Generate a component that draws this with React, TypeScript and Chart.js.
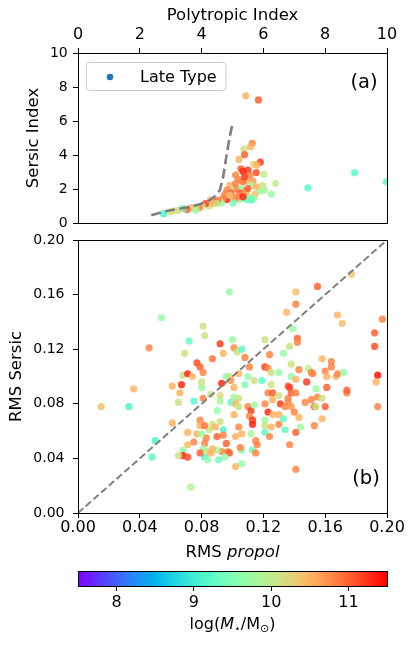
import React, { useEffect, useRef } from 'react';
import { Chart, registerables } from 'chart.js';

Chart.register(...registerables);

const W = 416;
const H = 646;
const FONT = "'DejaVu Sans', 'Liberation Sans', sans-serif";

// ---------- Panel (a): Polytropic index vs Sersic index ----------
const polyIndex = [5.64, 5.58, 5.37, 5.39, 5.21, 5.90, 5.69, 5.79, 5.27, 5.50,
  5.34, 5.77, 6.02, 5.10, 5.56, 5.19, 5.45, 5.66, 5.34, 5.97,
  6.40, 5.61, 5.02, 4.91, 4.82, 5.15, 5.29, 5.23, 5.43, 5.88,
  5.45, 5.72, 6.26, 5.56, 5.69, 5.45, 5.23, 5.07, 5.02, 4.82,
  4.71, 4.64, 4.53, 4.42, 4.32, 4.24, 4.13, 4.02, 3.92, 3.81,
  3.67, 3.53, 3.40, 3.27, 3.13, 2.99, 2.77, 3.81, 4.96, 4.75,
  5.10, 5.39, 5.50, 5.77, 6.04, 4.91, 5.18, 5.34, 4.48, 4.29,
  5.61, 5.43, 5.84, 7.44, 8.95, 9.98];
const sersicIndex = [4.69, 4.49, 4.35, 4.02, 3.74, 3.58, 3.45, 3.41, 3.19, 3.11,
  3.05, 2.97, 2.87, 2.82, 2.81, 2.56, 2.46, 2.46, 2.42, 2.22,
  2.32, 2.22, 2.09, 2.22, 1.93, 2.03, 2.03, 1.77, 1.89, 1.87,
  1.69, 1.69, 1.69, 1.48, 1.44, 1.38, 1.38, 1.44, 1.18, 1.38,
  1.50, 1.18, 1.34, 1.24, 1.14, 1.02, 1.14, 0.98, 0.90, 0.86,
  0.90, 0.79, 0.85, 0.75, 0.71, 0.65, 0.55, 0.75, 1.77, 1.69,
  2.32, 2.72, 2.03, 2.13, 1.93, 1.63, 1.54, 1.54, 1.14, 1.34,
  1.34, 7.48, 7.24, 2.07, 2.95, 2.42];
const massTop = [10.8, 10.5, 10.1, 11.0, 10.5, 11.2, 10.3, 10.5, 11.0, 11.2,
  11.3, 11.1, 10.0, 10.8, 10.8, 10.8, 10.5, 10.7, 10.9, 10.1,
  10.0, 9.8, 9.7, 10.5, 10.8, 10.8, 9.7, 11.0, 10.8, 9.7,
  10.5, 10.4, 9.7, 9.7, 9.8, 9.3, 9.7, 10.8, 9.4, 11.3,
  10.8, 9.7, 10.8, 11.0, 10.7, 10.2, 11.2, 10.1, 10.8, 10.1,
  10.5, 11.0, 9.2, 10.1, 10.1, 10.2, 9.1, 9.7, 11.0, 10.8,
  10.8, 11.2, 11.0, 10.5, 9.8, 10.4, 10.8, 11.3, 10.1, 10.5,
  9.3, 10.5, 11.0, 9.2, 9.2, 9.2];

// dashed relation curve
const curvePoly = [2.37, 2.86, 3.51, 3.94, 4.26, 4.48, 4.59, 4.69, 4.80, 4.91, 5.00];
const curveSersic = [0.45, 0.71, 0.91, 1.10, 1.34, 1.64, 1.93, 2.62, 3.90, 5.08, 5.83];

// ---------- Panel (b): RMS propol vs RMS Sersic ----------
const rmsPropol = [
  0.015, 0.033, 0.036, 0.046, 0.054, 0.050, 0.048, 0.073, 0.098, 0.081,
  0.082, 0.072, 0.069, 0.061, 0.067, 0.068, 0.065, 0.066, 0.061, 0.071,
  0.077, 0.079, 0.081, 0.074, 0.080, 0.080, 0.075, 0.081, 0.086, 0.087,
  0.092, 0.094, 0.093, 0.092, 0.092, 0.090, 0.096, 0.098, 0.099, 0.099,
  0.100, 0.101, 0.103, 0.106, 0.104, 0.101, 0.101, 0.104, 0.102, 0.104,
  0.108, 0.111, 0.110, 0.108, 0.114, 0.110, 0.112, 0.111, 0.114, 0.113,
  0.112, 0.113, 0.115, 0.116, 0.113, 0.115, 0.106, 0.106, 0.102, 0.105,
  0.102, 0.106, 0.104, 0.101, 0.096, 0.097, 0.098, 0.093, 0.090, 0.091,
  0.095, 0.094, 0.094, 0.090, 0.087, 0.085, 0.082, 0.083, 0.081, 0.082,
  0.084, 0.084, 0.086, 0.087, 0.079, 0.079, 0.077, 0.075, 0.071, 0.071,
  0.068, 0.068, 0.071, 0.065, 0.079, 0.082, 0.080, 0.092, 0.089, 0.121,
  0.121, 0.123, 0.119, 0.124, 0.125, 0.125, 0.123, 0.126, 0.126, 0.121,
  0.121, 0.121, 0.121, 0.123, 0.126, 0.125, 0.124, 0.130, 0.130, 0.130,
  0.130, 0.133, 0.131, 0.133, 0.134, 0.134, 0.136, 0.136, 0.137, 0.138,
  0.136, 0.138, 0.138, 0.137, 0.139, 0.138, 0.140, 0.141, 0.141, 0.142,
  0.142, 0.141, 0.141, 0.135, 0.141, 0.141, 0.137, 0.143, 0.144, 0.143,
  0.147, 0.148, 0.149, 0.151, 0.152, 0.151, 0.153, 0.154, 0.154, 0.155,
  0.153, 0.155, 0.158, 0.158, 0.158, 0.160, 0.161, 0.161, 0.160, 0.164,
  0.164, 0.167, 0.168, 0.172, 0.168, 0.171, 0.177, 0.174, 0.174, 0.192,
  0.192, 0.194, 0.193, 0.194, 0.197];
const rmsSersic = [
  0.078, 0.078, 0.091, 0.121, 0.143, 0.053, 0.041, 0.019, 0.162, 0.137,
  0.130, 0.126, 0.117, 0.093, 0.094, 0.101, 0.081, 0.088, 0.066, 0.102,
  0.110, 0.107, 0.103, 0.100, 0.092, 0.096, 0.082, 0.084, 0.087, 0.113,
  0.124, 0.117, 0.095, 0.086, 0.082, 0.075, 0.100, 0.100, 0.097, 0.081,
  0.127, 0.121, 0.118, 0.120, 0.102, 0.092, 0.085, 0.084, 0.080, 0.078,
  0.114, 0.107, 0.100, 0.094, 0.097, 0.078, 0.075, 0.071, 0.079, 0.068,
  0.058, 0.065, 0.053, 0.050, 0.046, 0.044, 0.046, 0.036, 0.034, 0.048,
  0.056, 0.058, 0.063, 0.072, 0.051, 0.045, 0.044, 0.045, 0.046, 0.039,
  0.041, 0.061, 0.057, 0.056, 0.065, 0.061, 0.051, 0.055, 0.047, 0.041,
  0.039, 0.045, 0.044, 0.047, 0.068, 0.064, 0.058, 0.052, 0.050, 0.059,
  0.046, 0.042, 0.041, 0.042, 0.044, 0.064, 0.058, 0.067, 0.063, 0.127,
  0.107, 0.106, 0.097, 0.116, 0.103, 0.094, 0.088, 0.088, 0.083, 0.080,
  0.068, 0.064, 0.059, 0.074, 0.072, 0.063, 0.056, 0.065, 0.086, 0.103,
  0.072, 0.069, 0.080, 0.117, 0.078, 0.061, 0.084, 0.093, 0.092, 0.088,
  0.081, 0.078, 0.109, 0.122, 0.135, 0.100, 0.074, 0.088, 0.098, 0.128,
  0.125, 0.153, 0.162, 0.147, 0.059, 0.032, 0.050, 0.070, 0.063, 0.105,
  0.081, 0.096, 0.106, 0.103, 0.102, 0.083, 0.078, 0.078, 0.091, 0.085,
  0.064, 0.166, 0.113, 0.084, 0.069, 0.104, 0.100, 0.092, 0.078, 0.111,
  0.107, 0.100, 0.102, 0.103, 0.145, 0.139, 0.175, 0.088, 0.090, 0.132,
  0.122, 0.101, 0.096, 0.078, 0.142];
const massBottom = [
  10.4, 9.1, 10.5, 10.8, 9.7, 9.1, 9.2, 9.9, 9.7, 10.1,
  10.1, 9.3, 10.1, 10.5, 11.3, 10.1, 10.1, 10.5, 10.5, 11.3,
  11.1, 11.0, 10.8, 10.5, 9.7, 10.1, 9.2, 10.8, 10.1, 10.9,
  11.2, 10.5, 11.3, 10.2, 9.8, 9.7, 9.5, 10.1, 10.7, 9.3,
  9.7, 10.8, 10.1, 9.2, 10.5, 10.5, 9.8, 10.1, 10.5, 10.1,
  10.8, 10.8, 9.7, 9.6, 10.1, 10.8, 11.2, 10.8, 9.7, 11.2,
  9.8, 11.3, 10.8, 10.8, 9.4, 10.8, 9.7, 9.7, 10.5, 10.8,
  10.5, 10.5, 10.8, 10.5, 11.0, 10.8, 11.0, 10.8, 9.8, 9.4,
  9.7, 9.1, 10.8, 11.0, 10.1, 10.1, 10.8, 10.8, 9.7, 9.2,
  9.7, 10.1, 10.5, 10.5, 10.8, 10.5, 10.5, 10.8, 10.5, 10.5,
  9.7, 11.3, 11.1, 10.1, 11.0, 10.9, 9.7, 10.1, 10.5, 10.1,
  11.2, 10.8, 9.2, 10.8, 10.1, 10.1, 10.8, 11.0, 10.5, 10.8,
  9.8, 10.1, 9.3, 11.3, 10.5, 10.5, 10.8, 10.8, 10.1, 9.7,
  10.5, 9.3, 11.2, 9.7, 10.8, 9.3, 10.8, 11.0, 11.2, 11.0,
  10.8, 10.7, 10.1, 10.1, 9.7, 9.7, 10.8, 10.8, 10.5, 11.0,
  10.8, 10.8, 10.4, 10.5, 11.0, 10.8, 10.8, 10.5, 9.7, 10.8,
  10.8, 11.2, 9.9, 10.8, 10.8, 10.8, 11.0, 10.1, 9.7, 10.8,
  10.8, 11.0, 10.5, 10.1, 10.5, 10.8, 10.5, 11.0, 11.0, 10.8,
  10.8, 10.5, 10.8, 9.7, 10.5, 10.4, 10.4, 10.8, 11.0, 11.0,
  11.1, 11.4, 10.5, 10.8, 10.8];

// one-to-one reference line
const diagX = [0, 0.2];
const diagY = [0, 0.2];

// ---------- ticks / colour scale ----------
const polyTicks = [0, 2, 4, 6, 8, 10];
const sersicTicks = [0, 2, 4, 6, 8, 10];
const rmsTicks = [0, 0.04, 0.08, 0.12, 0.16, 0.2];
const massTicks = [8, 9, 10, 11];
const massMin = 7.5;
const massMax = 11.5;

// ---------- layout (pixel geometry, not data) ----------
const L = 78;
const R = 387;
const TOP_A = 53;
const BOT_A = 223;
const TOP_B = 240;
const BOT_B = 513;
const TOP_C = 571;
const BOT_C = 586;
const BIG = 16;      // x tick labels, legend, colorbar
const TITLE = 16.5;  // axis titles
const SMALL = 14;    // y tick labels

function rainbow(t: number): [number, number, number] {
  const u = Math.max(0, Math.min(1, t));
  const r = Math.min(1, Math.abs(2 * u - 0.5));
  const g = Math.sin(Math.PI * u);
  const b = Math.cos((Math.PI * u) / 2);
  return [Math.round(r * 255), Math.round(g * 255), Math.round(b * 255)];
}
function massColor(m: number, a: number): string {
  const [r, g, b] = rainbow((m - massMin) / (massMax - massMin));
  return `rgba(${r},${g},${b},${a})`;
}

function axis(ticksArr: number[], fmt: (v: number) => string, pad: number, size: number) {
  return {
    type: 'linear' as const,
    grid: {
      display: true,
      drawOnChartArea: false,
      drawTicks: true,
      tickLength: 5,
      color: '#000',
      lineWidth: 1,
    },
    border: { display: false },
    ticks: {
      autoSkip: false,
      maxRotation: 0,
      minRotation: 0,
      padding: pad,
      color: '#000',
      font: { family: FONT, size },
      callback: (v: any) => fmt(Number(v)),
    },
    afterBuildTicks: (s: any) => {
      s.ticks = ticksArr.map((v) => ({ value: v }));
    },
  };
}

const fmtInt = (v: number) => String(Math.round(v));
const fmt2 = (v: number) => v.toFixed(2);

const framePlugin = {
  id: 'frame',
  afterDatasetsDraw(chart: any) {
    const { ctx, chartArea: a } = chart;
    ctx.save();
    ctx.strokeStyle = '#000';
    ctx.lineWidth = 1;
    const x0 = Math.round(a.left) + 0.5;
    const y0 = Math.round(a.top) + 0.5;
    const x1 = Math.round(a.right) + 0.5;
    const y1 = Math.round(a.bottom) + 0.5;
    ctx.strokeRect(x0, y0, x1 - x0, y1 - y0);
    ctx.restore();
  },
};

function roundRect(ctx: CanvasRenderingContext2D, x: number, y: number, w: number, h: number, r: number) {
  ctx.beginPath();
  ctx.moveTo(x + r, y);
  ctx.lineTo(x + w - r, y);
  ctx.arcTo(x + w, y, x + w, y + r, r);
  ctx.lineTo(x + w, y + h - r);
  ctx.arcTo(x + w, y + h, x + w - r, y + h, r);
  ctx.lineTo(x + r, y + h);
  ctx.arcTo(x, y + h, x, y + h - r, r);
  ctx.lineTo(x, y + r);
  ctx.arcTo(x, y, x + r, y, r);
  ctx.closePath();
}

const topAnnot = {
  id: 'topAnnot',
  afterDraw(chart: any) {
    const ctx: CanvasRenderingContext2D = chart.ctx;
    ctx.save();
    roundRect(ctx, 86.5, 62.5, 139.5, 28, 3);
    ctx.fillStyle = 'rgba(255,255,255,0.8)';
    ctx.fill();
    ctx.strokeStyle = '#cccccc';
    ctx.lineWidth = 1;
    ctx.stroke();
    ctx.beginPath();
    ctx.fillStyle = '#1f77b4';
    ctx.arc(110, 77, 3.3, 0, Math.PI * 2);
    ctx.fill();
    ctx.fillStyle = '#000';
    ctx.textBaseline = 'alphabetic';
    ctx.textAlign = 'left';
    ctx.font = `${BIG}px ${FONT}`;
    ctx.fillText('Late Type', 140, 81.7);
    ctx.font = `19.5px ${FONT}`;
    ctx.textAlign = 'center';
    ctx.fillText('(a)', 364, 87.5);
    ctx.restore();
  },
};

const botAnnot = {
  id: 'botAnnot',
  afterDraw(chart: any) {
    const ctx: CanvasRenderingContext2D = chart.ctx;
    ctx.save();
    ctx.fillStyle = '#000';
    ctx.textBaseline = 'alphabetic';
    ctx.font = `19.5px ${FONT}`;
    ctx.textAlign = 'center';
    ctx.fillText('(b)', 366, 484);
    // x-axis title: "RMS " + italic "propol"
    ctx.textAlign = 'left';
    const nFont = `${TITLE}px ${FONT}`;
    const iFont = `italic ${TITLE}px ${FONT}`;
    ctx.font = nFont;
    const w1 = ctx.measureText('RMS ').width;
    ctx.font = iFont;
    const w2 = ctx.measureText('propol').width;
    const cx = (L + R) / 2;
    const x0 = cx - (w1 + w2) / 2;
    ctx.font = nFont;
    ctx.fillText('RMS ', x0, 557);
    ctx.font = iFont;
    ctx.fillText('propol', x0 + w1, 557);
    ctx.restore();
  },
};

const colorbarPlugin = {
  id: 'colorbar',
  afterDraw(chart: any) {
    const ctx: CanvasRenderingContext2D = chart.ctx;
    const a = chart.chartArea;
    ctx.save();
    const grad = ctx.createLinearGradient(a.left, 0, a.right, 0);
    const N = 64;
    for (let i = 0; i <= N; i++) {
      const [r, g, b] = rainbow(i / N);
      grad.addColorStop(i / N, `rgb(${r},${g},${b})`);
    }
    ctx.fillStyle = grad;
    ctx.fillRect(a.left, a.top, a.right - a.left, a.bottom - a.top);
    ctx.strokeStyle = '#000';
    ctx.lineWidth = 1;
    ctx.strokeRect(Math.round(a.left) + 0.5, Math.round(a.top) + 0.5, Math.round(a.right - a.left), Math.round(a.bottom - a.top));

    // title: log(M_star / M_sun)
    const pieces: { t: string; f: string; dy: number }[] = [
      { t: 'log(', f: `${BIG}px ${FONT}`, dy: 0 },
      { t: 'M', f: `italic ${BIG}px ${FONT}`, dy: 0 },
      { t: '\u22C6', f: `11px ${FONT}`, dy: 3.5 },
      { t: '/M', f: `${BIG}px ${FONT}`, dy: 0 },
      { t: '\u2299', f: `11px ${FONT}`, dy: 3.5 },
      { t: ')', f: `${BIG}px ${FONT}`, dy: 0 },
    ];
    let total = 0;
    const widths = pieces.map((p) => {
      ctx.font = p.f;
      const w = ctx.measureText(p.t).width;
      total += w;
      return w;
    });
    let x = (a.left + a.right) / 2 - total / 2;
    ctx.fillStyle = '#000';
    ctx.textBaseline = 'alphabetic';
    ctx.textAlign = 'left';
    pieces.forEach((p, i) => {
      ctx.font = p.f;
      ctx.fillText(p.t, x, 628.8 + p.dy);
      x += widths[i];
    });
    ctx.restore();
  },
};

export default function App() {
  const topRef = useRef<HTMLCanvasElement>(null);
  const botRef = useRef<HTMLCanvasElement>(null);
  const barRef = useRef<HTMLCanvasElement>(null);

  useEffect(() => {
    document.body.style.margin = '0';
    const charts: Chart[] = [];
    const titleFont = { family: FONT, size: TITLE };
    const alpha = 0.85;

    const padTopA = 5.9;
    const padLeftA = 23.6;
    charts.push(
      new Chart(topRef.current as HTMLCanvasElement, {
        type: 'scatter',
        data: {
          datasets: [
            {
              data: curvePoly.map((x, i) => ({ x, y: curveSersic[i] })),
              showLine: true,
              borderColor: 'rgba(120,120,120,0.95)',
              borderWidth: 2.6,
              borderDash: [10, 4.5],
              pointRadius: 0,
              fill: false,
              tension: 0,
            } as any,
            {
              data: polyIndex.map((x, i) => ({ x, y: sersicIndex[i] })),
              backgroundColor: massTop.map((m) => massColor(m, alpha)),
              borderWidth: 0,
              pointRadius: 3.6,
              clip: 0,
            } as any,
          ],
        },
        options: {
          responsive: false,
          animation: false,
          devicePixelRatio: 1,
          events: [],
          layout: {
            autoPadding: false,
            padding: { left: padLeftA, top: padTopA, right: W - R, bottom: H - BOT_A },
          },
          plugins: { legend: { display: false }, tooltip: { enabled: false } },
          scales: {
            x: {
              ...axis(polyTicks, fmtInt, 3.7, BIG),
              position: 'top',
              min: 0,
              max: 10,
              title: { display: true, text: 'Polytropic Index', padding: 0, color: '#000', font: titleFont },
              afterFit: (s: any) => {
                s.height = TOP_A - padTopA;
                s.paddingLeft = 0;
                s.paddingRight = 0;
              },
            },
            y: {
              ...axis(sersicTicks, fmtInt, 5.3, SMALL),
              position: 'left',
              min: 0,
              max: 10,
              title: { display: true, text: 'Sersic Index', padding: 0, color: '#000', font: titleFont },
              afterFit: (s: any) => {
                s.width = L - padLeftA;
                s.paddingTop = 0;
                s.paddingBottom = 0;
              },
            },
          } as any,
        },
        plugins: [framePlugin, topAnnot],
      } as any)
    );

    const padLeftB = 6.9;
    charts.push(
      new Chart(botRef.current as HTMLCanvasElement, {
        type: 'scatter',
        data: {
          datasets: [
            {
              data: diagX.map((x, i) => ({ x, y: diagY[i] })),
              showLine: true,
              borderColor: 'rgba(128,128,128,1)',
              borderWidth: 2,
              borderDash: [7, 3.3],
              pointRadius: 0,
              fill: false,
            } as any,
            {
              data: rmsPropol.map((x, i) => ({ x, y: rmsSersic[i] })),
              backgroundColor: massBottom.map((m) => massColor(m, alpha)),
              borderWidth: 0,
              pointRadius: 3.6,
              clip: 0,
            } as any,
          ],
        },
        options: {
          responsive: false,
          animation: false,
          devicePixelRatio: 1,
          events: [],
          layout: {
            autoPadding: false,
            padding: { left: padLeftB, top: TOP_B, right: W - R, bottom: 0 },
          },
          plugins: { legend: { display: false }, tooltip: { enabled: false } },
          scales: {
            x: {
              ...axis(rmsTicks, fmt2, 0.3, BIG),
              position: 'bottom',
              min: 0,
              max: 0.2,
              afterFit: (s: any) => {
                s.height = H - BOT_B;
                s.paddingLeft = 0;
                s.paddingRight = 0;
              },
            },
            y: {
              ...axis(rmsTicks, fmt2, 8.5, SMALL),
              position: 'left',
              min: 0,
              max: 0.2,
              title: { display: true, text: 'RMS Sersic', padding: 0, color: '#000', font: titleFont },
              afterFit: (s: any) => {
                s.width = L - padLeftB;
                s.paddingTop = 0;
                s.paddingBottom = 0;
              },
            },
          } as any,
        },
        plugins: [framePlugin, botAnnot],
      } as any)
    );

    charts.push(
      new Chart(barRef.current as HTMLCanvasElement, {
        type: 'scatter',
        data: { datasets: [] },
        options: {
          responsive: false,
          animation: false,
          devicePixelRatio: 1,
          events: [],
          layout: {
            autoPadding: false,
            padding: { left: L, top: TOP_C, right: W - R, bottom: 0 },
          },
          plugins: { legend: { display: false }, tooltip: { enabled: false } },
          scales: {
            x: {
              ...axis(massTicks, fmtInt, 2.7, BIG),
              position: 'bottom',
              min: massMin,
              max: massMax,
              afterFit: (s: any) => {
                s.height = H - BOT_C;
                s.paddingLeft = 0;
                s.paddingRight = 0;
              },
            },
            y: { display: false, min: 0, max: 1 },
          } as any,
        },
        plugins: [colorbarPlugin],
      } as any)
    );

    return () => {
      charts.forEach((c) => c.destroy());
    };
  }, []);

  const cs: React.CSSProperties = { position: 'absolute', left: 0, top: 0, width: W, height: H };
  return (
    <div style={{ position: 'absolute', left: 0, top: 0, width: W, height: H, background: '#fff' }}>
      <canvas ref={topRef} width={W} height={H} style={cs} />
      <canvas ref={botRef} width={W} height={H} style={cs} />
      <canvas ref={barRef} width={W} height={H} style={cs} />
    </div>
  );
}
